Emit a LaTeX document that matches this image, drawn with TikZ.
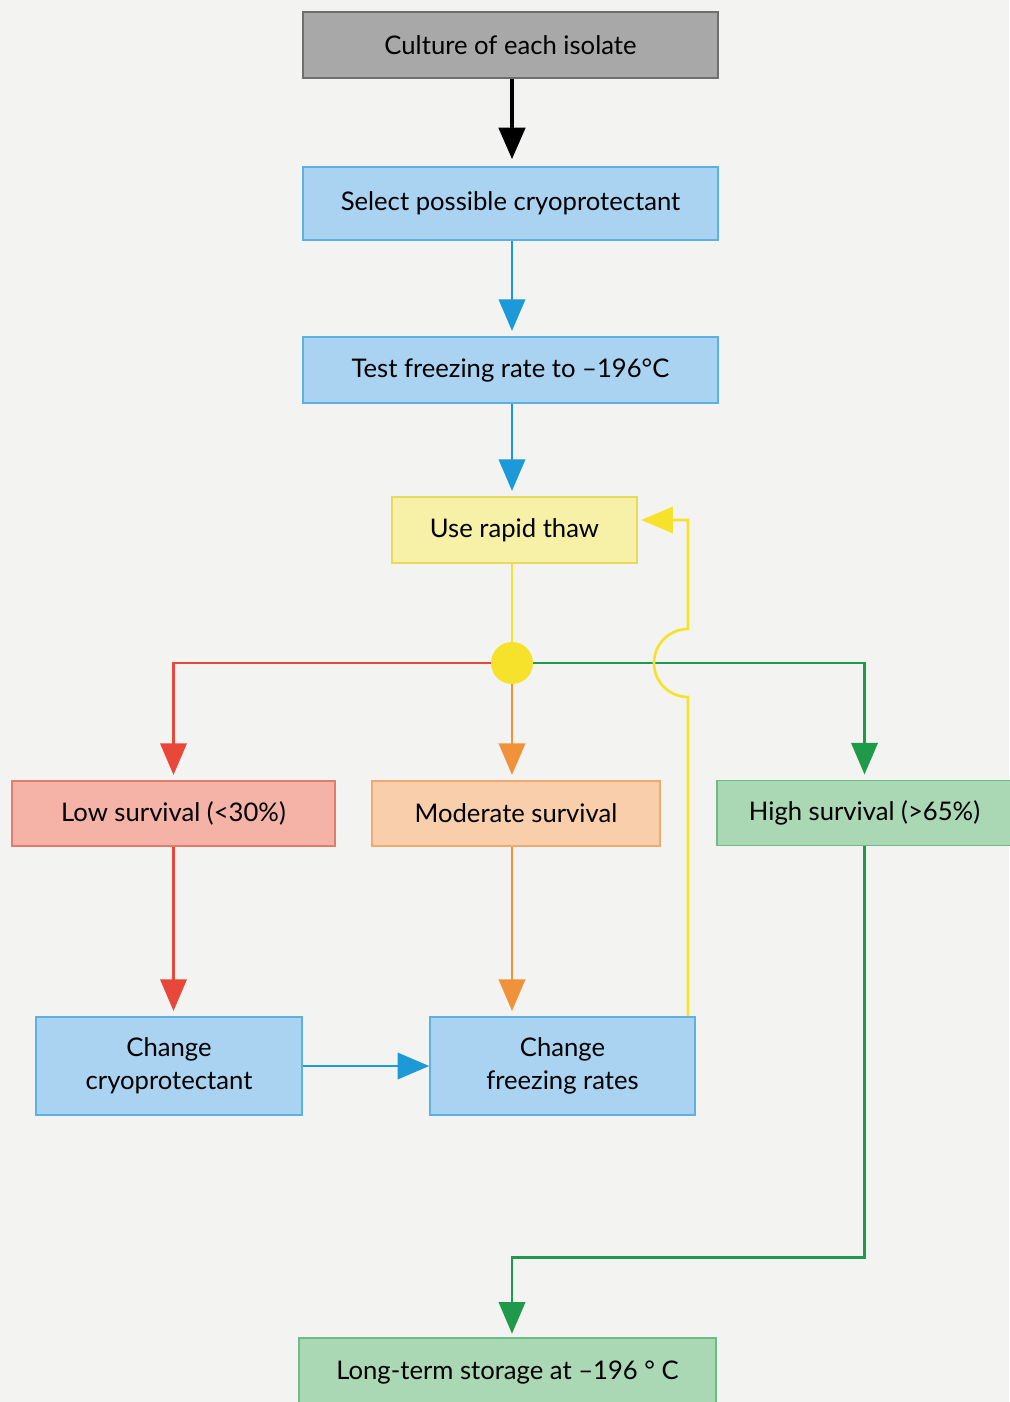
\documentclass[tikz,border=0pt]{standalone}
\usepackage{fontspec}
\setmainfont{Lato}
\usetikzlibrary{arrows.meta,positioning}

\definecolor{pagebg}{HTML}{F3F3F2}
\definecolor{greyfill}{HTML}{A8A8A8}
\definecolor{greyline}{HTML}{6E6E6E}
\definecolor{bluefill}{HTML}{A9D3F1}
\definecolor{blueline}{HTML}{5DB0E2}
\definecolor{bluearrow}{HTML}{1C9AD8}
\definecolor{yellowfill}{HTML}{F6F1A6}
\definecolor{yellowline}{HTML}{E9DA5E}
\definecolor{yellowarrow}{HTML}{F6E22A}
\definecolor{redfill}{HTML}{F4B3A6}
\definecolor{redline}{HTML}{E27D6E}
\definecolor{redarrow}{HTML}{E9473A}
\definecolor{orangefill}{HTML}{F8CFAA}
\definecolor{orangeline}{HTML}{F1A96F}
\definecolor{orangearrow}{HTML}{F0923A}
\definecolor{greenfill}{HTML}{AAD8B5}
\definecolor{greenline}{HTML}{6DBB85}
\definecolor{greenarrow}{HTML}{1F9A4B}

\begin{document}
\begin{tikzpicture}[
  x=0.02cm, y=-0.02cm,
  every node/.style={font=\fontsize{14.6}{19}\selectfont, text=black, align=center, inner sep=0pt},
  stepbox/.style={draw, line width=0.9pt, minimum width=8.3cm, minimum height=1.32cm},
  bluebox/.style={stepbox, fill=bluefill, draw=blueline},
  flow/.style={line width=1.5pt, -{Triangle[width=15pt,length=18pt]}}
]
  \useasboundingbox[fill=pagebg] (0,0) rectangle (1009,1402);

  % boxes
  \node[stepbox, fill=greyfill, draw=greyline] (culture) at (510.5,45) {Culture of each isolate};
  \node[bluebox, minimum height=1.46cm] (select) at (510.5,203.5) {Select possible cryoprotectant};
  \node[bluebox] (test) at (510.5,370) {Test freezing rate to –196°C};
  \node[stepbox, fill=yellowfill, draw=yellowline, minimum width=4.9cm] (thaw) at (514.5,530) {Use rapid thaw};
  \node[circle, fill=yellowarrow, minimum size=0.84cm] (hub) at (512,663) {};
  \node[stepbox, fill=redfill, draw=redline, minimum width=6.46cm, minimum height=1.3cm] (low) at (173.5,813.5) {Low survival (<30\%)};
  \node[stepbox, fill=orangefill, draw=orangeline, minimum width=5.76cm, minimum height=1.3cm] (mod) at (516,813.5) {Moderate survival};
  \node[stepbox, fill=greenfill, draw=greenline, minimum width=5.9cm, minimum height=1.3cm] (high) at (864.5,813) {High survival (>65\%)};
  \node[bluebox, minimum width=5.32cm, minimum height=1.96cm] (cryo) at (169,1066) {Change\\cryoprotectant};
  \node[bluebox, minimum width=5.3cm, minimum height=1.96cm] (frz) at (562.5,1066) {Change\\freezing rates};
  \node[stepbox, fill=greenfill, draw=greenline, minimum width=8.34cm, minimum height=1.4cm] (store) at (507.5,1373) {Long-term storage at –196 ° C};

  \coordinate (hop) at (688,663);

  % connectors
  \draw[flow, black, line width=2.2pt, shorten >=4pt] (culture.south -| hub) -- (select.north -| hub);
  \draw[flow, bluearrow, shorten >=3pt] (select.south -| hub) -- (test.north -| hub);
  \draw[flow, bluearrow, shorten >=3pt] (test.south -| hub) -- (thaw.north -| hub);
  \draw[yellowarrow, line width=1.5pt] (thaw.south -| hub) -- (hub);
  \draw[flow, redarrow, shorten >=3pt] (hub) -| (low);
  \draw[flow, orangearrow, shorten >=3pt] (hub) -- (hub |- mod.north);
  \draw[flow, greenarrow, shorten >=3pt] (hub) -| (high);
  \draw[flow, redarrow, shorten >=3pt] (low) -- (low.south |- cryo.north);
  \draw[flow, orangearrow, shorten >=3pt] (mod.south -| hub) -- (hub |- frz.north);
  \draw[flow, bluearrow] (cryo) -- (frz);
  \draw[flow, yellowarrow, shorten >=2pt] (frz.north -| hop) -- ([yshift=-0.68cm]hop)
    arc[start angle=270, end angle=90, radius=0.68cm] -- (hop |- 0,520) -- (thaw.east |- 0,520);
  \draw[flow, greenarrow, shorten >=2pt] (high) |- ([yshift=1.6cm]store.north -| hub) -- (store.north -| hub);
\end{tikzpicture}
\end{document}
